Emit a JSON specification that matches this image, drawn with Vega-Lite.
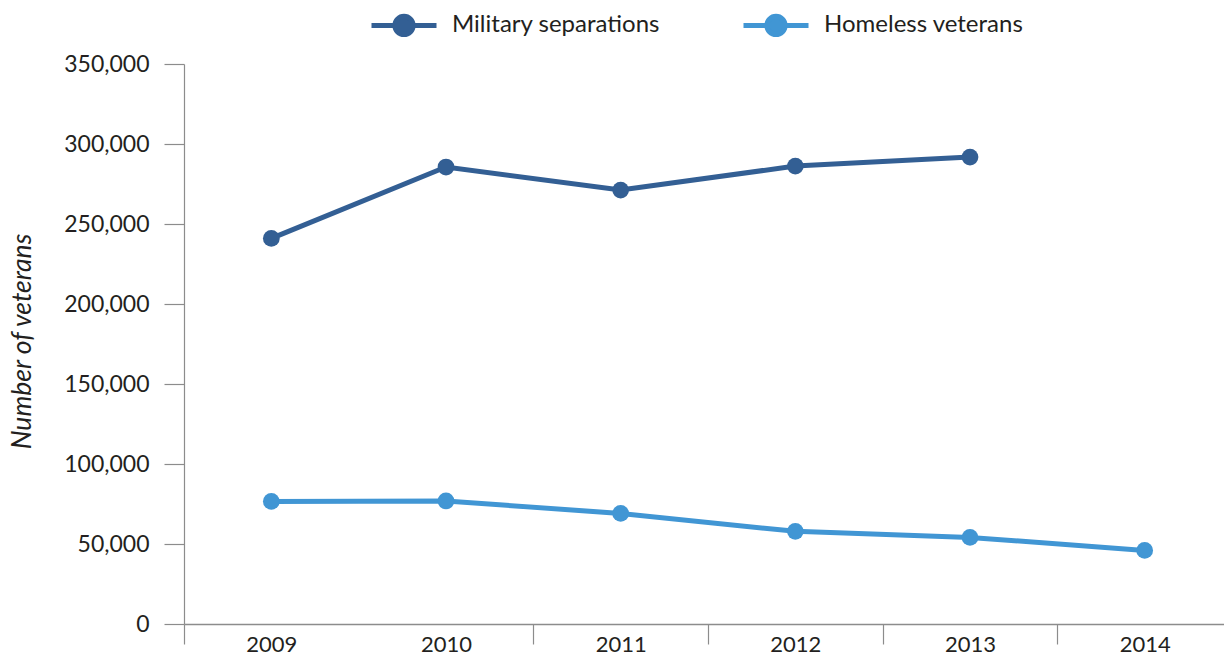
{
  "$schema": "https://vega.github.io/schema/vega-lite/v6.json",
  "autosize": "none",
  "padding": {"left": 184, "top": 64, "right": 0, "bottom": 32},
  "width": 1048,
  "height": 560,
  "background": "white",
  "data": {"values": [
    {"year": "2009", "series": "Military separations", "value": 241000},
    {"year": "2010", "series": "Military separations", "value": 285600},
    {"year": "2011", "series": "Military separations", "value": 271200},
    {"year": "2012", "series": "Military separations", "value": 286200},
    {"year": "2013", "series": "Military separations", "value": 291800},
    {"year": "2009", "series": "Homeless veterans", "value": 76600},
    {"year": "2010", "series": "Homeless veterans", "value": 76900},
    {"year": "2011", "series": "Homeless veterans", "value": 69100},
    {"year": "2012", "series": "Homeless veterans", "value": 57900},
    {"year": "2013", "series": "Homeless veterans", "value": 54100},
    {"year": "2014", "series": "Homeless veterans", "value": 46000}
  ]},
  "config": {
    "view": {"stroke": null},
    "font": "Lato"
  },
  "encoding": {
    "x": {
      "field": "year", "type": "ordinal",
      "scale": {"type": "band", "paddingInner": 0, "paddingOuter": 0},
      "axis": {
        "title": null, "labelAngle": 0, "tickBand": "extent",
        "domainColor": "#8c8c8c", "tickColor": "#8c8c8c", "tickSize": 20, "tickWidth": 1.2, "domainWidth": 1.5,
        "tickOpacity": {"condition": {"test": "datum.index === 0", "value": 0}, "value": 1},
        "labelFontSize": 22, "labelColor": "#231f20", "labelPadding": -10, "labelBaseline": "top",
        "labelFont": "Lato"
      }
    },
    "y": {
      "field": "value", "type": "quantitative",
      "scale": {"domain": [0, 350000], "nice": false},
      "axis": {
        "values": [0, 50000, 100000, 150000, 200000, 250000, 300000, 350000],
        "format": ",d", "grid": false,
        "domainColor": "#8c8c8c", "tickColor": "#8c8c8c", "tickSize": 20, "tickWidth": 1.2, "domainWidth": 1.2,
        "labelFontSize": 23, "labelColor": "#231f20", "labelPadding": 15, "labelFont": "Lato",
        "title": "Number of veterans", "titleFontStyle": "italic", "titleFontWeight": "normal",
        "titleFontSize": 26.5, "titleColor": "#231f20", "titleFont": "Lato",
        "titleX": -162, "titleY": 277, "titleAngle": -90, "titleBaseline": "middle", "titleAlign": "center"
      }
    },
    "color": {
      "field": "series", "type": "nominal",
      "scale": {"domain": ["Military separations", "Homeless veterans"], "range": ["#335f94", "#4196d4"]},
      "legend": {
        "title": null, "orient": "none", "direction": "horizontal",
        "legendX": 185, "legendY": -74,
        "symbolType": "M -1 0 L 1 0 M 0.28 0 A 0.28 0.28 0 1 1 -0.28 0 A 0.28 0.28 0 1 1 0.28 0 Z",
        "symbolSize": 4225, "symbolStrokeWidth": 5,
        "labelFontSize": 24, "labelColor": "#231f20", "labelOffset": 13, "labelFont": "Lato",
        "labelLimit": 400, "columnPadding": 72,
        "encode": {"symbols": {"update": {
          "fill": {"scale": "color", "field": "value"},
          "stroke": {"scale": "color", "field": "value"},
          "opacity": {"value": 1}
        }}}
      }
    }
  },
  "layer": [
    {"mark": {"type": "line", "strokeWidth": 5}},
    {"mark": {"type": "point", "filled": true, "size": 280, "opacity": 1}}
  ]
}
